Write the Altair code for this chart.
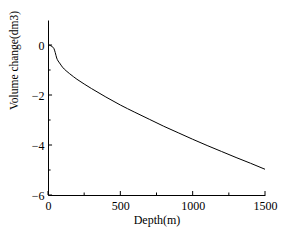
import altair as alt
import pandas as pd

depth = [0, 10, 20, 30, 40, 50, 60, 70, 80, 100, 125, 150, 200, 250, 300, 400,
         500, 600, 700, 800, 900, 1000, 1100, 1200, 1300, 1400, 1500]
volume = [0, -0.01, -0.03, -0.07, -0.13, -0.3, -0.52, -0.64, -0.72, -0.885, -1.03,
          -1.15, -1.37, -1.56, -1.74, -2.08, -2.4, -2.69, -2.97, -3.25, -3.51,
          -3.77, -4.02, -4.26, -4.5, -4.73, -4.97]

y_major = [0, -2, -4, -6]
y_minor = [-1, -3, -5]
x_major = [0, 500, 1000, 1500]
x_minor = [250, 750, 1250]

FONT = "Liberation Serif"

df = pd.DataFrame({"depth": depth, "volume": volume})

xscale = alt.Scale(domain=[0, 1500], nice=False, zero=False)
yscale = alt.Scale(domain=[-6, 1], nice=False, zero=False)

line = alt.Chart(df).mark_line(color="black", strokeWidth=1, interpolate="monotone").encode(
    x=alt.X("depth:Q", scale=xscale,
            axis=alt.Axis(title="Depth(m)", values=x_major, ticks=False, format="d",
                          grid=False, domainColor="black", labelColor="black",
                          labelFlush=False,
                          labelFont=FONT, labelFontSize=12, labelPadding=5,
                          titleFont=FONT, titleFontSize=12, titleFontWeight="normal",
                          titleColor="black", titlePadding=3)),
    y=alt.Y("volume:Q", scale=yscale,
            axis=alt.Axis(title="Volume change(dm3)", values=y_major, ticks=False,
                          grid=False, domainColor="black", labelColor="black",
                          labelFlush=False,
                          labelFont=FONT, labelFontSize=12, labelPadding=4,
                          titleFont=FONT, titleFontSize=11.5, titleFontWeight="normal",
                          titleColor="black", titleX=-34, titleY=40,
                          titleAlign="center", titleBaseline="middle", titleAngle=270)),
)

ymaj_df = pd.DataFrame({"v": y_major, "x0": 0, "x1": 28})
ymin_df = pd.DataFrame({"v": y_minor, "x0": 0, "x1": 18})
xmaj_df = pd.DataFrame({"d": x_major, "y0": -6, "y1": -5.84})
xmin_df = pd.DataFrame({"d": x_minor, "y0": -6, "y1": -5.9})

def yticks(d):
    return alt.Chart(d).mark_rule(color="black", strokeWidth=1).encode(
        y=alt.Y("v:Q", scale=yscale), x=alt.X("x0:Q", scale=xscale), x2="x1:Q")

def xticks(d):
    return alt.Chart(d).mark_rule(color="black", strokeWidth=1).encode(
        x=alt.X("d:Q", scale=xscale), y=alt.Y("y0:Q", scale=yscale), y2="y1:Q")

chart = alt.layer(line, yticks(ymaj_df), yticks(ymin_df), xticks(xmaj_df), xticks(xmin_df)).properties(
    width=217, height=175,
    autosize=alt.AutoSizeParams(type="none"),
    padding={"left": 40, "top": 12, "right": 13, "bottom": 37},
    background="white",
).configure_view(stroke=None)

chart.save("out.html", embed_options={"renderer": "svg", "actions": False})
